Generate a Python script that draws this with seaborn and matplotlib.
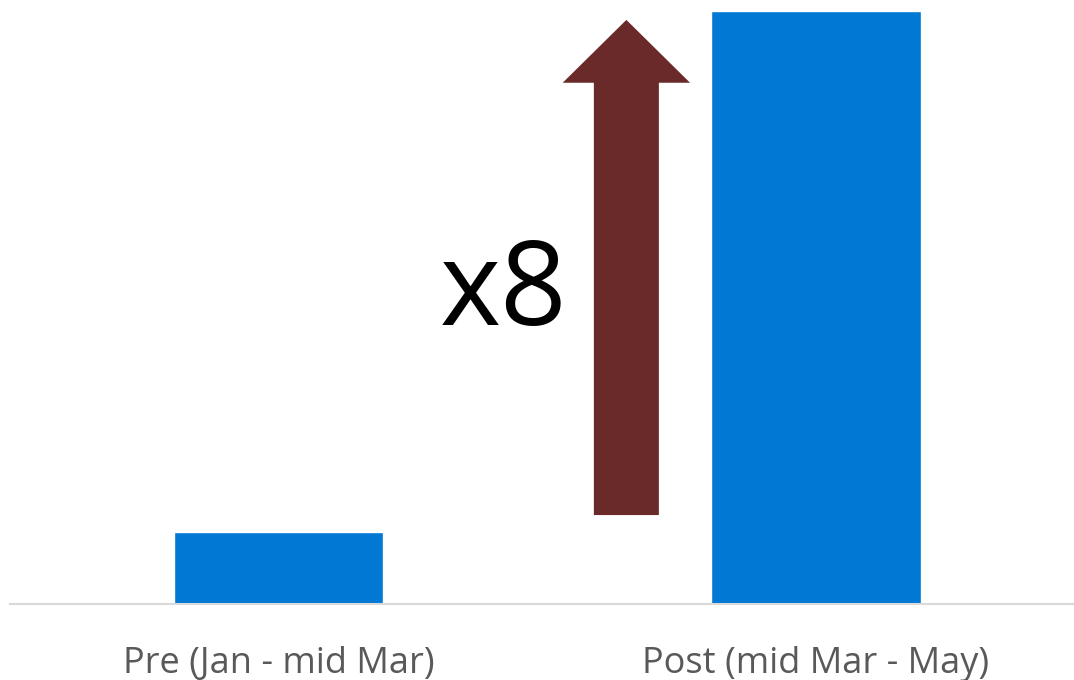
import matplotlib
matplotlib.use("Agg")
import matplotlib.pyplot as plt
import seaborn as sns
import pandas as pd
from matplotlib.patches import FancyArrow

categories = ["Pre (Jan - mid Mar)", "Post (mid Mar - May)"]
values = [1.0, 8.2]
multiplier_label = "x8"

bar_color = "#0078D4"
arrow_color = "#6B2A2A"
label_color = "#595959"

sns.set_theme(style="white")
plt.rcParams["font.family"] = ["Open Sans", "DejaVu Sans"]

df = pd.DataFrame({"period": categories, "value": values})

fig = plt.figure(figsize=(10.74, 6.8), dpi=100)
ax = fig.add_axes([10 / 1074, 76 / 680, 1064 / 1074, 604 / 680])

sns.barplot(data=df, x="period", y="value", color=bar_color, width=0.39,
            saturation=1, ax=ax)

ax.set_xlim(-0.5, 1.48)
ax.set_ylim(0, values[1] * 604 / 593)

# arrow from just above Pre level up to near Post level
arrow_x = 0.647
arrow_base = values[0] * 1.23
arrow_tip = values[1] * 0.985
head_len = values[1] * 0.106
ax.add_patch(FancyArrow(arrow_x, arrow_base, 0, arrow_tip - arrow_base,
                        width=0.121, head_width=0.237, head_length=head_len,
                        length_includes_head=True, color=arrow_color, lw=0))

ax.text(0.418, values[1] * 0.471, multiplier_label, fontsize=84, color="black",
        ha="center", va="baseline")

for s in ["top", "left", "right"]:
    ax.spines[s].set_visible(False)
ax.spines["bottom"].set_color("#D9D9D9")
ax.spines["bottom"].set_linewidth(1.5)

ax.set_xlabel("")
ax.set_ylabel("")
ax.set_yticks([])
ax.tick_params(axis="x", length=0, pad=30, labelsize=26, labelcolor=label_color)

fig.savefig("out.png", dpi=100)
